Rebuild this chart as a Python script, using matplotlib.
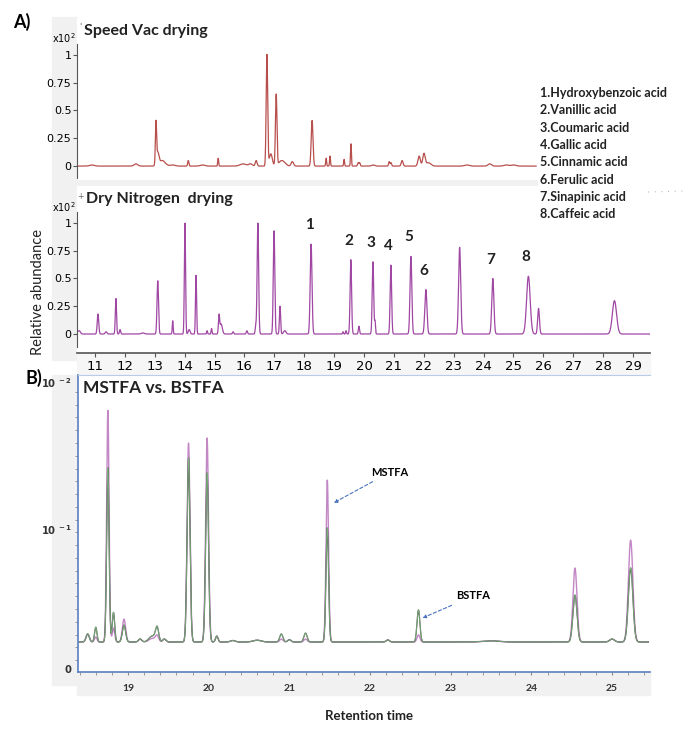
import numpy as np
import matplotlib
matplotlib.use("Agg")
import matplotlib.pyplot as plt
from matplotlib.patches import Rectangle

# ---- data ----------------------------------------------------------------
# A) Speed Vac drying: retention time (min), relative height, peak sigma (min)
sv_rt = [10.9, 12.37, 13.04, 13.10, 13.25, 13.6, 14.12, 14.6, 15.12, 15.95, 16.2, 16.39,
         16.75, 16.88, 17.06, 17.25, 17.6, 18.26, 18.73, 18.86, 19.33, 19.56, 19.8,
         19.85, 20.3, 20.84, 20.9, 21.27, 21.84, 22.0, 22.15, 23.44, 24.2, 24.75, 25.0]
sv_height = [0.01, 0.02, 0.37, 0.11, 0.05, 0.01, 0.05, 0.01, 0.07, 0.02, 0.02, 0.05,
             1.0, 0.11, 0.64, 0.05, 0.04, 0.41, 0.07, 0.09, 0.06, 0.20, 0.03,
             0.03, 0.01, 0.04, 0.03, 0.05, 0.09, 0.11, 0.03, 0.01, 0.02, 0.01, 0.01]
sv_sigma = [0.08, 0.06, 0.02, 0.04, 0.1, 0.08, 0.02, 0.08, 0.015, 0.1, 0.06, 0.03,
            0.025, 0.05, 0.025, 0.1, 0.04, 0.03, 0.015, 0.015, 0.015, 0.015, 0.02,
            0.02, 0.05, 0.02, 0.02, 0.03, 0.04, 0.04, 0.08, 0.08, 0.06, 0.08, 0.08]

# A) Dry Nitrogen drying
dn_rt = [10.47, 11.1, 11.37, 11.7, 11.84, 12.6, 13.1, 13.6, 14.01, 14.15, 14.38, 14.75,
         14.9, 15.15, 15.22, 15.62, 16.08, 16.38, 16.45, 16.99, 17.19, 17.35, 18.23,
         19.3, 19.4, 19.56, 19.83, 20.30, 20.37, 20.9, 21.57, 22.07, 23.2, 24.31,
         25.5, 25.84, 28.38]
dn_height = [0.03, 0.18, 0.02, 0.32, 0.04, 0.01, 0.48, 0.12, 1.0, 0.04, 0.53, 0.03,
             0.05, 0.16, 0.09, 0.02, 0.03, 0.07, 1.0, 0.93, 0.25, 0.03, 0.81,
             0.02, 0.03, 0.67, 0.07, 0.65, 0.11, 0.62, 0.70, 0.40, 0.78, 0.50,
             0.52, 0.23, 0.30]
dn_sigma = [0.04, 0.025, 0.03, 0.02, 0.02, 0.05, 0.025, 0.015, 0.02, 0.03, 0.018, 0.015,
            0.015, 0.02, 0.04, 0.02, 0.02, 0.02, 0.025, 0.025, 0.02, 0.04, 0.03,
            0.015, 0.015, 0.025, 0.02, 0.025, 0.015, 0.025, 0.03, 0.035, 0.035, 0.035,
            0.06, 0.03, 0.07]
label_ids = ["1", "2", "3", "4", "5", "6", "7", "8"]
label_rt = [18.23, 19.56, 20.30, 20.9, 21.57, 22.07, 24.31, 25.5]
label_height = [0.81, 0.67, 0.65, 0.62, 0.70, 0.40, 0.50, 0.52]
acids = ["1.Hydroxybenzoic acid", "2.Vanillic acid", "3.Coumaric acid", "4.Gallic acid",
         "5.Cinnamic acid", "6.Ferulic acid", "7.Sinapinic acid", "8.Caffeic acid"]
a_xticks = list(range(11, 30))
a_yticks = [0, 0.25, 0.5, 0.75, 1]
a_yticklabels = ["0", "0.25", "0.5", "0.75", "1"]

# B) MSTFA vs BSTFA: heights above baseline, in fraction of axis height
b_baseline = 0.101
b_rt = [18.50, 18.60, 18.75, 18.82, 18.95, 19.15, 19.30, 19.36, 19.45, 19.75, 19.98,
        20.10, 20.30, 20.60, 20.9, 21.0, 21.2, 21.47, 22.22, 22.60, 23.5, 24.54, 25.0, 25.23]
b_mstfa = [0.027, 0.017, 0.78, 0.047, 0.077, 0.01, 0.012, 0.02, 0.01, 0.67, 0.687,
           0.02, 0.005, 0.006, 0.01, 0.008, 0.01, 0.545, 0.007, 0.024, 0.004, 0.249, 0.01, 0.343]
b_bstfa = [0.027, 0.05, 0.586, 0.10, 0.057, 0.01, 0.02, 0.047, 0.01, 0.62, 0.569,
           0.02, 0.005, 0.006, 0.027, 0.008, 0.03, 0.384, 0.007, 0.108, 0.004, 0.158, 0.01, 0.249]
b_sigma = [0.02, 0.015, 0.015, 0.015, 0.02, 0.02, 0.04, 0.02, 0.02, 0.018, 0.018,
           0.015, 0.03, 0.05, 0.02, 0.02, 0.02, 0.016, 0.02, 0.018, 0.1, 0.025, 0.03, 0.028]
b_xticks = [19, 20, 21, 22, 23, 24, 25]
b_yticks = [0.013, 0.481, 0.976]
b_yticklabels = [r"$\mathbf{0}$", r"$\mathbf{10^{\ -1}}$", r"$\mathbf{10^{\ -2}}$"]

# ---- helpers ---------------------------------------------------------------
W, H = 685, 733
NARROW = ["Liberation Sans Narrow", "DejaVu Sans"]
BOLD = ["Lato", "DejaVu Sans"]
GRAY = "#f1f1f1"


def box(x0, y0, x1, y1):
    """pixel box (top-left origin) -> figure fraction rect"""
    return [x0 / W, 1 - y1 / H, (x1 - x0) / W, (y1 - y0) / H]


def trace(t, rt, h, s, base=0.0):
    y = np.full_like(t, base)
    for r, a, w in zip(rt, h, s):
        y += a * np.exp(-0.5 * ((t - r) / w) ** 2)
    return y


def bg(x0, y0, x1, y1, color=GRAY):
    fig.patches.append(Rectangle((x0 / W, 1 - y1 / H), (x1 - x0) / W, (y1 - y0) / H,
                                 transform=fig.transFigure, color=color, zorder=-5))


fig = plt.figure(figsize=(W / 100, H / 100), dpi=100)

# gray frame pieces (drawn under the axes)
bg(52, 17, 77, 360)
bg(77, 180, 537, 186)
bg(77, 353, 650, 375, "#f6f6f6")
bg(52, 375, 77, 685)
bg(77, 672, 650, 695)
# faint dotted leftover line right of the acid list
fig.add_artist(plt.Line2D([648 / W, 685 / W], [1 - 192 / H, 1 - 191 / H], color="#bbbbbb",
                          lw=0.8, ls=(0, (1, 5))))

# ---- A top: Speed Vac ------------------------------------------------------
ax1 = fig.add_axes(box(77, 18, 537, 180))
t1 = np.linspace(10.45, 25.75, 4000)
ax1.plot(t1, trace(t1, sv_rt, sv_height, sv_sigma), color="#b84f4c", lw=0.9)
ax1.set_xlim(10.4, 25.78)
ax1.set_ylim(-0.125, 1.33)
for s in ("top", "right", "bottom"):
    ax1.spines[s].set_visible(False)
ax1.spines["left"].set_color("#555555")
ax1.spines["left"].set_bounds(-0.11, 1.1)
ax1.set_xticks([])
ax1.set_yticks(a_yticks)
ax1.set_yticklabels(a_yticklabels, family=NARROW, fontsize=8)
ax1.tick_params(axis="y", length=3, pad=1, color="#555555")
ax1.text(0.004, 0.94, "'", transform=ax1.transAxes, fontsize=6, color="#666666", va="center")
ax1.text(0.016, 0.92, "Speed Vac drying", transform=ax1.transAxes, family=BOLD,
         fontweight="bold", fontsize=11.5, va="center", color="#222222")
fig.text(52 / W, 1 - 38 / H, r"x10$^{\mathregular{2}}$", family=NARROW, fontsize=7, va="center")

# ---- A bottom: Dry nitrogen ------------------------------------------------
ax2 = fig.add_axes(box(77, 186, 650, 353))
t2 = np.linspace(10.45, 29.55, 5000)
ax2.plot(t2, trace(t2, dn_rt, dn_height, dn_sigma), color="#a047a4", lw=0.9)
ax2.set_xlim(10.398, 29.569)
ax2.set_ylim(-0.171, 1.333)
for s in ("top", "right"):
    ax2.spines[s].set_visible(False)
ax2.spines["left"].set_color("#555555")
ax2.spines["left"].set_bounds(-0.12, 1.1)
ax2.spines["bottom"].set_color("#555555")
ax2.spines["bottom"].set_linewidth(1.2)
ax2.set_xticks(a_xticks)
ax2.set_xticklabels([str(v) for v in a_xticks], family=NARROW, fontsize=9.5)
ax2.set_yticks(a_yticks)
ax2.set_yticklabels(a_yticklabels, family=NARROW, fontsize=8)
ax2.tick_params(axis="y", length=3, pad=1, color="#555555")
ax2.tick_params(axis="x", length=3, pad=2, color="#555555")
ax2.text(0.001, 0.935, "+", transform=ax2.transAxes, fontsize=5.5, color="#666666", va="center")
ax2.text(0.016, 0.92, "Dry Nitrogen  drying", transform=ax2.transAxes, family=BOLD,
         fontweight="bold", fontsize=11.5, va="center", color="#222222")
fig.text(52 / W, 1 - 207 / H, r"x10$^{\mathregular{2}}$", family=NARROW, fontsize=7, va="center")
for lab, r, h in zip(label_ids, label_rt, label_height):
    ax2.text(r - 0.07, h + 0.17, lab, family=BOLD, fontweight="bold", fontsize=11,
             ha="center", va="center", color="#222222")
fig.text(38 / W, 1 - 292 / H, "Relative abundance", rotation=90, family=BOLD,
         fontsize=10.5, ha="center", va="center", color="#222222")

# legend of acids
for i, name in enumerate(acids):
    fig.text(540 / W, 1 - (93 + i * 17.3) / H, name, family=BOLD, fontweight="bold",
             fontsize=9, va="center", color="#222222")

fig.text(22 / W, 1 - 22 / H, "A)", family=BOLD, fontweight="bold", fontsize=13,
         ha="center", va="center")
fig.text(34 / W, 1 - 378 / H, "B)", family=BOLD, fontweight="bold", fontsize=13,
         ha="center", va="center")

# ---- B: MSTFA vs BSTFA -----------------------------------------------------
ax3 = fig.add_axes(box(78, 375, 650, 672))
t3 = np.linspace(18.38, 25.45, 6000)
ax3.plot(t3, trace(t3, b_rt, b_mstfa, b_sigma, b_baseline), color="#c387c6", lw=1.0)
y_b = trace(t3, b_rt, b_bstfa, b_sigma, b_baseline)
ax3.plot(t3, y_b, color="#505050", lw=0.9)
ax3.plot(t3, y_b, color="#86c986", lw=0.6, alpha=0.8)
ax3.set_xlim(18.38, 25.47)
ax3.set_ylim(0, 1)
blue = "#5b7fc0"
ax3.spines["right"].set_visible(False)
ax3.spines["top"].set_color("#b9cbe6")
for s in ("left", "bottom"):
    ax3.spines[s].set_color(blue)
    ax3.spines[s].set_linewidth(1.2)
ax3.set_xticks(b_xticks)
ax3.set_xticklabels([str(v) for v in b_xticks], family=BOLD, fontweight="bold",
                    fontsize=7.5, color="#333333")
ax3.set_xticks(np.arange(18.4, 25.45, 0.2), minor=True)
ax3.set_yticks(b_yticks)
ax3.set_yticklabels(b_yticklabels, fontsize=7.2, color="#333333")
ax3.set_yticks(np.arange(0.04, 0.97, 0.043), minor=True)
ax3.tick_params(axis="both", which="both", color="#8a8a8a", length=2.5)
ax3.tick_params(axis="x", which="major", pad=6)
ax3.tick_params(axis="y", which="major", pad=4, length=0)
ax3.text(0.008, 0.955, "MSTFA vs. BSTFA", transform=ax3.transAxes, family=BOLD,
         fontweight="bold", fontsize=12.5, va="center", color="#222222")

arrow = dict(arrowstyle="-|>", linestyle=(0, (3, 2)), color="#4a72c0", lw=0.8,
             mutation_scale=5, shrinkA=2, shrinkB=0)
ms = b_rt.index(21.47)
ax3.annotate("MSTFA", xy=(b_rt[ms] + 0.08, b_baseline + 0.86 * b_mstfa[ms]),
             xytext=(22.25, 0.673), family=BOLD, fontweight="bold", fontsize=8,
             ha="center", va="center", arrowprops=arrow)
bs = b_rt.index(22.60)
ax3.annotate("BSTFA", xy=(b_rt[bs] + 0.05, b_baseline + 0.75 * b_bstfa[bs]),
             xytext=(23.28, 0.256), family=BOLD, fontweight="bold", fontsize=8,
             ha="center", va="center", arrowprops=arrow)

fig.text(369 / W, 1 - 716 / H, "Retention time", family=BOLD, fontweight="bold",
         fontsize=9.5, ha="center", va="center", color="#222222")

fig.savefig("out.png", dpi=100)
